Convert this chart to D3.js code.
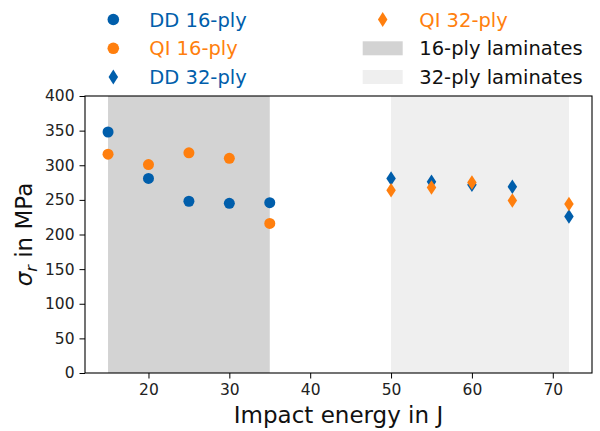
<!DOCTYPE html>
<html>
<head>
<meta charset="utf-8">
<script src="https://cdn.jsdelivr.net/npm/d3@7"></script>
<style>
  body { margin: 0; background: #fff; }
  svg { font-family: "DejaVu Sans", sans-serif; }
</style>
</head>
<body>
<svg id="chart" width="600" height="431"></svg>
<script>
// data
const energies16 = [15, 20, 25, 30, 35];
const dd16 = [348, 281, 248, 245, 246];
const qi16 = [316, 301, 318, 310, 216];
const energies32 = [50, 55, 60, 65, 72];
const dd32 = [281, 276, 272, 269, 226];
const qi32 = [264, 268, 275, 249, 244];
const spans = [
  { label: '16-ply laminates', from: 15, to: 35, color: '#d3d3d3' },
  { label: '32-ply laminates', from: 50, to: 72, color: '#efefef' }
];
const xTicks = [20, 30, 40, 50, 60, 70];
const yTicks = [0, 50, 100, 150, 200, 250, 300, 350, 400];

const blue = '#005eab';
const orange = '#ff7f0e';

const series = [
  { label: 'DD 16-ply', x: energies16, y: dd16, color: blue, shape: 'circle' },
  { label: 'QI 16-ply', x: energies16, y: qi16, color: orange, shape: 'circle' },
  { label: 'DD 32-ply', x: energies32, y: dd32, color: blue, shape: 'diamond' },
  { label: 'QI 32-ply', x: energies32, y: qi32, color: orange, shape: 'diamond' }
];

const svg = d3.select('#chart');
const margin = { left: 85, right: 8, top: 96, bottom: 58 };
const width = 600, height = 431;

const x = d3.scaleLinear().domain([12.15, 74.85]).range([margin.left, width - margin.right]);
const y = d3.scaleLinear().domain([0, 400]).range([height - margin.bottom, margin.top]);

// shaded regions
svg.selectAll('rect.span')
  .data(spans)
  .join('rect')
  .attr('class', 'span')
  .attr('x', d => x(d.from))
  .attr('width', d => x(d.to) - x(d.from))
  .attr('y', y(400))
  .attr('height', y(0) - y(400))
  .attr('fill', d => d.color);

// diamond path (thin diamond like matplotlib 'd')
function diamond(cx, cy, w, h) {
  return `M${cx},${cy - h / 2}L${cx + w / 2},${cy}L${cx},${cy + h / 2}L${cx - w / 2},${cy}Z`;
}

// points
series.forEach(s => {
  const pts = s.x.map((v, i) => ({ x: v, y: s.y[i] }));
  const g = svg.append('g');
  if (s.shape === 'circle') {
    g.selectAll('circle').data(pts).join('circle')
      .attr('cx', d => x(d.x))
      .attr('cy', d => y(d.y))
      .attr('r', 5.5)
      .attr('fill', s.color);
  } else {
    g.selectAll('path').data(pts).join('path')
      .attr('d', d => diamond(x(d.x), y(d.y), 9.5, 14.5))
      .attr('fill', s.color);
  }
});

// axes
const xAxis = d3.axisBottom(x).tickValues(xTicks).tickSize(5.5).tickPadding(5);
const yAxis = d3.axisLeft(y).tickValues(yTicks).tickSize(5.5).tickPadding(5);

const xg = svg.append('g')
  .attr('transform', `translate(0,${y(0)})`)
  .call(xAxis);
const yg = svg.append('g')
  .attr('transform', `translate(${x.range()[0]},0)`)
  .call(yAxis);

[xg, yg].forEach(g => {
  g.select('.domain').remove();
  g.selectAll('line').attr('stroke', '#000').attr('stroke-width', 1);
  g.selectAll('text')
    .attr('fill', '#222')
    .style('font-size', '15.5px')
    .style('font-family', '"DejaVu Sans", sans-serif');
});

// box (spines)
svg.append('rect')
  .attr('x', x.range()[0])
  .attr('y', y(400))
  .attr('width', x.range()[1] - x.range()[0])
  .attr('height', y(0) - y(400))
  .attr('fill', 'none')
  .attr('stroke', '#000')
  .attr('stroke-width', 1.1);

// axis titles
svg.append('text')
  .attr('x', (x.range()[0] + x.range()[1]) / 2)
  .attr('y', 423)
  .attr('text-anchor', 'middle')
  .style('font-size', '23px')
  .attr('fill', '#111')
  .text('Impact energy in J');

const yt = svg.append('text')
  .attr('transform', `translate(31.5,${(y(0) + y(400)) / 2}) rotate(-90)`)
  .attr('text-anchor', 'middle')
  .style('font-size', '23px')
  .attr('fill', '#111');
yt.append('tspan').attr('font-style', 'italic').text('σ');
yt.append('tspan').attr('font-style', 'italic').attr('dy', 5).style('font-size', '16px').text('r');
yt.append('tspan').attr('dy', -5).text(' in MPa');

// legend
const legendItems = [
  { col: 0, row: 0, kind: 'circle', color: blue, label: 'DD 16-ply', text: blue },
  { col: 0, row: 1, kind: 'circle', color: orange, label: 'QI 16-ply', text: orange },
  { col: 0, row: 2, kind: 'diamond', color: blue, label: 'DD 32-ply', text: blue },
  { col: 1, row: 0, kind: 'diamond', color: orange, label: 'QI 32-ply', text: orange },
  { col: 1, row: 1, kind: 'patch', color: spans[0].color, label: spans[0].label, text: '#111' },
  { col: 1, row: 2, kind: 'patch', color: spans[1].color, label: spans[1].label, text: '#111' }
];
const colMarkerX = [113.3, 382.7];
const colTextX = [149.3, 419.3];
const rowY = [19.5, 48.3, 77];

const lg = svg.append('g');
legendItems.forEach(d => {
  const mx = colMarkerX[d.col], my = rowY[d.row];
  if (d.kind === 'circle') {
    lg.append('circle').attr('cx', mx).attr('cy', my).attr('r', 5.8).attr('fill', d.color);
  } else if (d.kind === 'diamond') {
    lg.append('path').attr('d', diamond(mx, my, 9.5, 15)).attr('fill', d.color);
  } else {
    lg.append('rect').attr('x', mx - 20).attr('y', my - 7).attr('width', 40).attr('height', 14).attr('fill', d.color);
  }
  lg.append('text')
    .attr('x', colTextX[d.col])
    .attr('y', my + 7)
    .style('font-size', '19.5px')
    .attr('fill', d.text)
    .text(d.label);
});
</script>
</body>
</html>
